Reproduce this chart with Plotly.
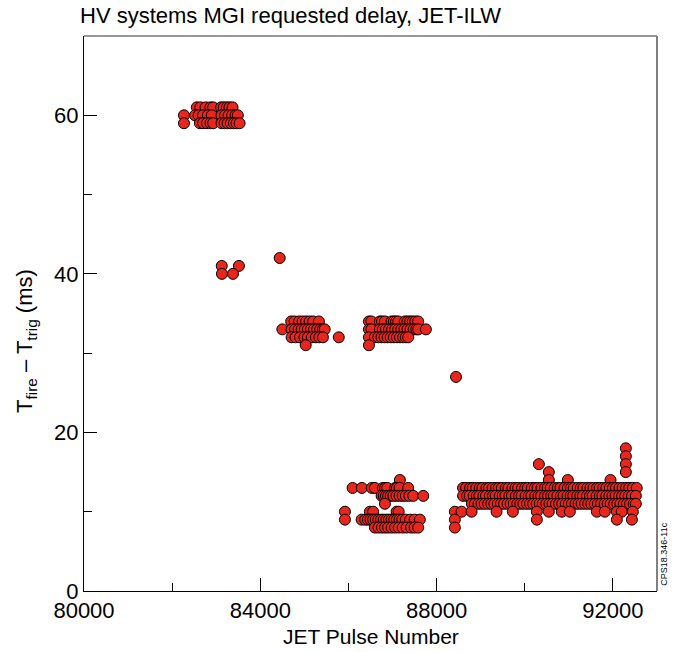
import plotly.graph_objects as go

# ---- data: JET pulse numbers grouped by requested delay (ms) ----
d61 = [82560, 82640, 82760, 82870, 82930, 83110, 83170, 83240, 83300, 83370]
d60 = [82268, 82520, 82600, 82700, 82810, 82900, 83120, 83200, 83280, 83360, 83440, 83490]
d59 = [82268, 82630, 82700, 82790, 82870, 82930, 83120, 83190, 83260, 83330, 83400, 83460, 83530]
d42 = [84440]
d41 = [83125, 83515]
d40 = [83130, 83380]
d34 = [84700, 84780, 84880, 84960, 85040, 85120, 85200, 85330,
       86464, 86520, 86713, 86760, 86827, 86979, 87030, 87080, 87130, 87280, 87340, 87400, 87460,
       87520, 87582]
d33 = [84500, 84710, 84790, 84870, 84940, 85010, 85080, 85150, 85220, 85290, 85360, 85420, 85460,
       86464, 86520, 86713, 86780, 86850, 86920, 86990, 87060, 87130, 87200, 87270, 87340, 87410,
       87480, 87540, 87582, 87757]
d32 = [84710, 84800, 84900, 85000, 85080, 85170, 85260, 85340, 85420, 85780,
       86464, 86600, 86680, 86750, 86820, 86890, 86960, 87030, 87100, 87170, 87240, 87300, 87355]
d31 = [85030, 86464]
d27 = [88440]
d18 = [92293]
d17 = [92293]
d16 = [90320, 92293]
d15 = [90546, 92293]
d14 = [87167, 90546, 90977, 91945]
d13 = [86094, 86305, 86530, 86600, 86780, 86830, 86880, 87060, 87100, 87160, 87355,
       88600, 88670, 88760, 88820, 88900, 88980, 89040, 89130, 89190, 89270, 89350, 89410, 89480,
       89570, 89630, 89720, 89790, 89850, 89940, 90010, 90070, 90160, 90230, 90290, 90380, 90460,
       90520, 90590, 90680, 90750, 90810, 90900, 90980, 91050, 91110, 91200, 91270, 91330, 91420,
       91490, 91560, 91640, 91700, 91780, 91850, 91930, 92000, 92070, 92150, 92220, 92300, 92370,
       92450, 92540]
d12 = [86752, 86800, 86850, 86900, 86960, 87020, 87090, 87160, 87230, 87300, 87380, 87469, 87696,
       88600, 88690, 88750, 88840, 88910, 88970, 89060, 89120, 89210, 89280, 89340, 89430, 89500,
       89560, 89650, 89710, 89800, 89870, 89930, 90020, 90090, 90150, 90240, 90310, 90370, 90460,
       90530, 90600, 90660, 90740, 90820, 90880, 90970, 91040, 91100, 91190, 91260, 91320, 91410,
       91480, 91540, 91630, 91700, 91760, 91850, 91920, 91990, 92060, 92140, 92210, 92280, 92360,
       92430, 92520]
d11 = [86827,
       88800, 88870, 88950, 89020, 89090, 89170, 89240, 89310, 89390, 89460, 89530, 89610, 89680,
       89750, 89830, 89900, 89970, 90050, 90120, 90190, 90270, 90340, 90410, 90490, 90560, 90630,
       90710, 90780, 90850, 90930, 91000, 91070, 91150, 91220, 91290, 91370, 91440, 91510, 91590,
       91660, 91730, 91810, 91880, 91950, 92030, 92100, 92170, 92250, 92320, 92390, 92470, 92520]
d10 = [85920, 86486, 86560, 87092, 87140,
       88414, 88566, 88793, 89360, 89730, 90274, 90546, 90840, 91022, 91635, 91817, 92089, 92200,
       92452]
d9 = [85920, 86298, 86380, 86440, 86500, 86560, 86620, 86680, 86740, 86800, 86860, 86920, 86980,
      87040, 87100, 87160, 87220, 87300, 87400, 87500, 87620,
      88414, 90274, 92089, 92430]
d8 = [86600, 86680, 86760, 86830, 86900, 86980, 87060, 87140, 87230, 87320, 87420, 87500, 87582,
      88414]

groups = [(61, d61), (60, d60), (59, d59), (42, d42), (41, d41), (40, d40),
          (34, d34), (33, d33), (32, d32), (31, d31), (27, d27),
          (18, d18), (17, d17), (16, d16), (15, d15), (14, d14), (13, d13),
          (12, d12), (11, d11), (10, d10), (9, d9), (8, d8)]

xs, ys = [], []
for delay, pulses in groups:
    xs.extend(pulses)
    ys.extend([delay] * len(pulses))

FONT = "Arial, Liberation Sans, sans-serif"

fig = go.Figure()
fig.add_trace(go.Scatter(
    x=xs, y=ys, mode="markers",
    marker=dict(size=11, color="#e8261c", line=dict(color="black", width=1)),
    hoverinfo="x+y", showlegend=False,
))

fig.update_layout(
    width=676, height=652,
    margin=dict(l=84, r=19, t=36, b=61),
    paper_bgcolor="white", plot_bgcolor="white",
    font=dict(family=FONT, color="black"),
    title=dict(text="HV systems MGI requested delay, JET-ILW",
               x=80 / 676, xanchor="left", xref="container",
               y=1 - 15 / 652, yanchor="middle", yref="container",
               font=dict(size=22, family=FONT, color="black")),
    xaxis=dict(range=[80000, 93000], tick0=80000, dtick=4000, tickformat="d",
               ticks="inside", ticklen=13, tickcolor="black", tickwidth=1,
               minor=dict(dtick=2000, ticks="inside", ticklen=8, tickcolor="black"),
               showgrid=False, zeroline=False, showline=True, linecolor="black", linewidth=1,
               tickfont=dict(size=22, family=FONT), automargin=False),
    yaxis=dict(range=[0, 70], tick0=0, dtick=20,
               ticks="inside", ticklen=13, tickcolor="black", tickwidth=1,
               minor=dict(dtick=10, ticks="inside", ticklen=8, tickcolor="black"),
               showgrid=False, zeroline=False, showline=True, linecolor="black", linewidth=1,
               tickfont=dict(size=22, family=FONT), automargin=False),
    shapes=[
        dict(type="line", xref="paper", yref="paper", x0=0, x1=1, y0=1, y1=1,
             line=dict(color="#333333", width=1)),
        dict(type="line", xref="paper", yref="paper", x0=1, x1=1, y0=0, y1=1,
             line=dict(color="#808080", width=2)),
    ],
    annotations=[
        dict(text="JET Pulse Number",
             xref="paper", yref="paper", x=0.5, y=(591 - 636) / 555,
             xanchor="center", yanchor="middle", showarrow=False,
             font=dict(size=21, family=FONT)),
        dict(text="T<sub>fire</sub> – T<sub>trig</sub> (ms)", textangle=-90,
             xref="paper", yref="paper", x=(26 - 84) / 573, y=(591 - 341) / 555,
             xanchor="center", yanchor="middle", showarrow=False,
             font=dict(size=22, family=FONT)),
        dict(text="CPS18.346-11c", textangle=-90,
             xref="paper", yref="paper", x=(664 - 84) / 573, y=0.005,
             xanchor="center", yanchor="bottom", showarrow=False,
             font=dict(size=9, family=FONT)),
    ],
)

fig.write_html("out.html")
